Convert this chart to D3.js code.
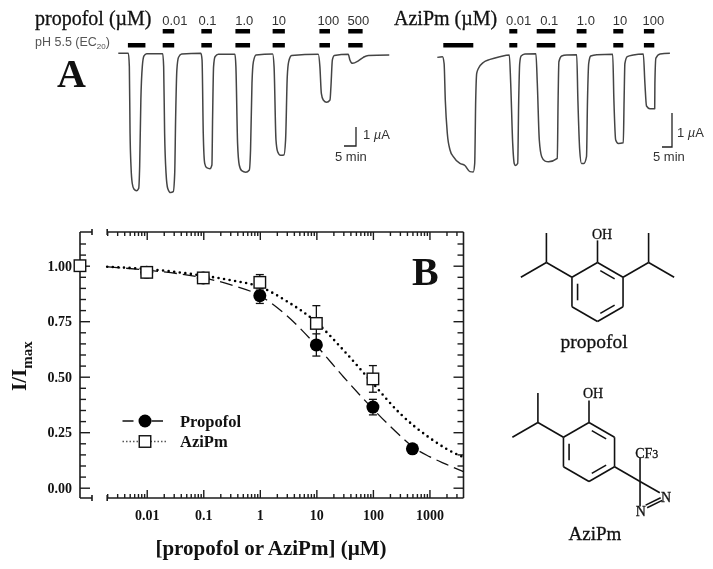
<!DOCTYPE html>
<html>
<head>
<meta charset="utf-8">
<title>Propofol and AziPm</title>
<script src="https://d3js.org/d3.v7.min.js"></script>
<style>
	body { margin: 0; background: #fff; }
	svg { display: block; filter: blur(0.4px); }
	.serif { font-family: "Liberation Serif", serif; fill: #111; }
	.sans { font-family: "Liberation Sans", sans-serif; fill: #333; }
</style>
</head>
<body>
<svg id="chart" width="713" height="569"></svg>
<script>
// panel A : current traces, [minutes, microamps]
const propofolTrace = [[0,0],[4.2,0],[4.6,-.7],[4.9,-4.21],[5.3,-5.96],[5.8,-6.84],[6.5,-7.14],[7.6,-7.23],[8.5,-7.11],[8.9,-5.96],[9.4,-2.46],[10,-.7],[10.7,-.14],[11.8,-.02],
	[18.5,-.02],[18.9,-.7],[19.3,-4.21],[19.9,-6.32],[20.6,-7.11],[21.8,-7.33],[22.9,-7.28],[23.5,-6.32],[23.9,-3.33],[24.4,-.88],[25.1,-.21],[26.4,-.04],
	[34.4,0],[34.9,-.35],[35.4,-4.21],[36,-5.79],[36.8,-6.02],[38.2,-6.07],[39,-5.88],[39.3,-3.33],[39.7,-.7],[40.3,-.18],[41.7,-.05],
	[48.6,-.05],[49,-.7],[49.7,-4.74],[50.4,-5.88],[51.4,-6.18],[53.1,-6.26],[54.6,-6.14],[55.1,-5.09],[55.7,-1.58],[56.3,-.44],[57.4,-.09],
	[64.3,-.04],[64.9,-.7],[65.7,-4.56],[66.4,-5.18],[67.6,-5.37],[69,-5.35],[69.7,-4.56],[70.4,-1.23],[71,-.44],[72.2,-.12],
	[83.3,-.05],[84,-.7],[84.6,-2.11],[85.4,-2.46],[86.8,-2.58],[88.2,-2.46],[88.6,-1.75],[89.2,-.35],[90,-.12],
	[95.8,-.05],[96.5,-.35],[97.6,-.53],[100,-.4],[102.1,-.21],[104.2,-.11],[112.9,-.09]];
const aziPmTrace = [[0,-.12],[2.6,-.1],[3.4,-.3],[4,-1.38],[5,-2.35],[6.4,-2.85],[8,-3.04],[11.3,-3.24],[13.8,-3.3],[16.3,-3.48],[18,-3.49],[18.7,-3.24],[19.2,-1.38],[19.7,-.59],[20.6,-.44],[23,-.27],[26.4,-.18],[31.3,-.1],
	[36,-.05],[36.7,-.88],[37.7,-2.65],[38.5,-3.25],[39.1,-3.3],[40.2,-3.24],[40.7,-1.38],[41.2,-.3],[41.9,-.08],[43.8,-.02],
	[49.3,-.01],[50,-.88],[51,-2.55],[52.2,-3.04],[53.9,-3.17],[55.6,-3.19],[60,-3.09],[60.4,-1.38],[60.8,-.25],[62.2,-.08],[64.7,-.05],
	[69.7,-.04],[70.3,-1.38],[71.2,-2.84],[72.1,-3.24],[73.3,-3.24],[74.6,-3.04],[75.1,-1.38],[75.7,-.3],[76.7,-.08],[79.7,-.04],
	[87.7,-.03],[88.3,-1.38],[89.2,-2.55],[90.5,-2.65],[93,-2.63],[93.4,-1.38],[93.8,-.3],[95,-.1],[98,-.05],
	[103,-.02],[103.8,-.88],[104.6,-1.55],[106.3,-1.63],[108.7,-1.63],[108.8,-.88],[109.3,-.14],[111.4,-.02],[116.3,0]];

// application bars, [start, end] in minutes
const propofolDoseBars = [[18.5,23.3],[34.6,39],[48.8,54.9],[64.3,69.4],[83.8,88.2],[95.8,101.8]];
const propofolPhBars = [[4,11.3]].concat(propofolDoseBars);
const aziPmDoseBars = [[36,40],[49.7,59],[69.7,74.6],[88,93],[103.3,108.5]];
const aziPmPhBars = [[3,18]].concat(aziPmDoseBars);

const propofolDoseLabels = ["0.01","0.1","1.0","10","100","500"];
const propofolDoseTimes = [23.6,37.2,52.5,66.9,87.5,100];
const aziPmDoseLabels = ["0.01","0.1","1.0","10","100"];
const aziPmDoseTimes = [40.7,56,74.3,91.3,108];

// panel B : concentration response
const concentrations = [0.01,0.1,1,10,100];
const propofolConc = [0.01,0.1,1,10,100,500];
const propofolMean = [0.97,0.945,0.865,0.643,0.363,0.175];
const propofolErr = [0.015,0.01,0.035,0.05,0.035,0.012];
const aziPmMean = [0.97,0.945,0.925,0.74,0.49];
const aziPmErr = [0.015,0.012,0.035,0.08,0.06];
const controlConc = 0.00066; // zero concentration, drawn on the y axis past the break
const controlMean = 1;

const propofolFit = [[0.002,0.995],[0.01,0.98],[0.1,0.945],[0.3,0.915],[1,0.865],[3,0.775],[10,0.64],[30,0.5],[100,0.355],[300,0.235],[500,0.185],[1000,0.14],[2000,0.105],[4000,0.072]];
const aziPmFit = [[0.002,0.995],[0.01,0.985],[0.1,0.955],[0.3,0.935],[1,0.905],[3,0.84],[10,0.745],[30,0.62],[100,0.47],[300,0.335],[1000,0.225],[2000,0.175],[4000,0.137]];

const xMajor = [0.01,0.1,1,10,100,1000];
const xMajorLabels = ["0.01","0.1","1","10","100","1000"];
const xMinor = [0.002,0.003,0.004,0.005,0.006,0.007,0.008,0.009,0.02,0.03,0.04,0.05,0.06,0.07,0.08,0.09,0.2,0.3,0.4,0.5,0.6,0.7,0.8,0.9,2,3,4,5,6,7,8,9,20,30,40,50,60,70,80,90,200,300,400,500,600,700,800,900,2000,3000];
const yMajor = [0,0.25,0.5,0.75,1];
const yMinor = [0.05,0.1,0.15,0.2,0.3,0.35,0.4,0.45,0.55,0.6,0.65,0.7,0.8,0.85,0.9,0.95,1.05,1.1];

const svg = d3.select("#chart");
const ink = "#1c1c1c";

// ---------- panel A
function drawTraces(opts){
	const t = d3.scaleLinear().domain([0, opts.tMax]).range([opts.left, opts.left + opts.tMax * opts.pxPerMin]);
	const c = d3.scaleLinear().domain([0, -1]).range([53.3, 53.3 + opts.pxPerUa]);
	const line = d3.line().x(d => t(d[0])).y(d => c(d[1])).curve(d3.curveMonotoneX);

	svg.append("path")
		.attr("d", line(opts.trace))
		.attr("fill", "none")
		.attr("stroke", "#444")
		.attr("stroke-width", 1.5)
		.attr("stroke-linejoin", "round");

	[[opts.doseBars, 29], [opts.phBars, 43]].forEach(function(row){
		svg.append("g").selectAll("rect")
			.data(row[0])
			.enter()
			.append("rect")
			.attr("x", d => t(d[0]))
			.attr("width", d => t(d[1]) - t(d[0]))
			.attr("y", row[1])
			.attr("height", 4.5)
			.attr("fill", "#000");
	});

	svg.append("g").selectAll("text")
		.data(opts.doseLabels)
		.enter()
		.append("text")
		.attr("class", "sans")
		.attr("x", (d, i) => t(opts.doseTimes[i]))
		.attr("y", 25)
		.attr("text-anchor", "middle")
		.attr("font-size", 13)
		.text(d => d);

	// scale bar, 5 min and 1 uA
	const w = t(5) - t(0), h = c(-1) - c(0);
	svg.append("path")
		.attr("d", `M${opts.barX - w},${opts.barY}H${opts.barX}V${opts.barY - h}`)
		.attr("fill", "none")
		.attr("stroke", "#222")
		.attr("stroke-width", 1.3);
	const ua = svg.append("text").attr("class", "sans").attr("font-size", 13)
		.attr("x", opts.uaX).attr("y", opts.uaY);
	ua.append("tspan").text("1 ");
	ua.append("tspan").attr("font-style", "italic").text("µ");
	ua.append("tspan").text("A");
	svg.append("text").attr("class", "sans").attr("font-size", 13)
		.attr("x", opts.minX).attr("y", 161).text("5 min");
}

drawTraces({ trace: propofolTrace, tMax: 112.9, left: 118.3, pxPerMin: 2.4, pxPerUa: 19,
	doseBars: propofolDoseBars, phBars: propofolPhBars,
	doseLabels: propofolDoseLabels, doseTimes: propofolDoseTimes,
	barX: 356, barY: 146, uaX: 363, uaY: 139, minX: 335 });
drawTraces({ trace: aziPmTrace, tMax: 116.3, left: 437.3, pxPerMin: 2, pxPerUa: 34,
	doseBars: aziPmDoseBars, phBars: aziPmPhBars,
	doseLabels: aziPmDoseLabels, doseTimes: aziPmDoseTimes,
	barX: 672, barY: 147, uaX: 677, uaY: 137, minX: 653 });

svg.append("text").attr("class", "serif").attr("x", 35).attr("y", 25).attr("font-size", 20)
	.attr("stroke", "#111").attr("stroke-width", 0.3).text("propofol (µM)");
svg.append("text").attr("class", "serif").attr("x", 394).attr("y", 25).attr("font-size", 20)
	.attr("stroke", "#111").attr("stroke-width", 0.3).text("AziPm (µM)");
const ph = svg.append("text").attr("class", "sans").attr("x", 35).attr("y", 46).attr("font-size", 12.5).style("fill", "#555");
ph.append("tspan").text("pH 5.5 (EC");
ph.append("tspan").attr("font-size", 8).attr("dy", 3).text("20");
ph.append("tspan").attr("dy", -3).text(")");
svg.append("text").attr("class", "serif").attr("x", 57).attr("y", 87).attr("font-size", 40).attr("font-weight", "bold").text("A");

// ---------- panel B
const x = d3.scaleLog().domain([0.002, 4000]).range([107.2, 463.5]);
const y = d3.scaleLinear().domain([0, 1]).range([487.7, 265.7]);
const frameL = 80, frameR = 463.5, frameT = 232, frameB = 498, breakL = 92;

const frame = svg.append("g").attr("fill", "none").attr("stroke", ink).attr("stroke-width", 1.6);
[frameT, frameB].forEach(function(yy){
	frame.append("path").attr("d", `M${frameL},${yy}H${breakL}M${breakL},${yy-3}V${yy+3}`);
	frame.append("path").attr("d", `M${x(0.002)},${yy-3}V${yy+3}M${x(0.002)},${yy}H${frameR}`);
});
frame.append("path").attr("d", `M${frameL},${frameT}V${frameB}M${frameR},${frameT}V${frameB}`);

function styleAxis(g){
	g.select(".domain").remove();
	g.selectAll("line").attr("stroke", ink).attr("stroke-width", 1.4);
	g.selectAll("text")
		.attr("font-family", "'Liberation Serif', serif")
		.attr("font-weight", "bold")
		.attr("font-size", 14)
		.attr("fill", "#111");
}
function addAxis(axis, tx, ty){
	svg.append("g").attr("transform", `translate(${tx},${ty})`).call(axis).call(styleAxis);
}
addAxis(d3.axisBottom(x).tickValues(xMajor).tickSize(-8).tickPadding(12).tickFormat((d, i) => xMajorLabels[i]), 0, frameB);
addAxis(d3.axisBottom(x).tickValues(xMinor).tickSize(-4).tickFormat(""), 0, frameB);
addAxis(d3.axisTop(x).tickValues(xMajor).tickSize(-8).tickFormat(""), 0, frameT);
addAxis(d3.axisTop(x).tickValues(xMinor).tickSize(-4).tickFormat(""), 0, frameT);
addAxis(d3.axisLeft(y).tickValues(yMajor).tickSize(-10).tickPadding(8).tickFormat(d3.format(".2f")), frameL, 0);
addAxis(d3.axisLeft(y).tickValues(yMinor).tickSize(-6).tickFormat(""), frameL, 0);
addAxis(d3.axisRight(y).tickValues(yMajor).tickSize(-10).tickFormat(""), frameR, 0);
addAxis(d3.axisRight(y).tickValues(yMinor).tickSize(-6).tickFormat(""), frameR, 0);

const fitLine = d3.line().x(d => x(d[0])).y(d => y(d[1])).curve(d3.curveMonotoneX);
svg.append("path").attr("d", fitLine(propofolFit)).attr("fill", "none")
	.attr("stroke", "#111").attr("stroke-width", 1.3).attr("stroke-dasharray", "13 6");
svg.append("path").attr("d", fitLine(aziPmFit)).attr("fill", "none")
	.attr("stroke", "#000").attr("stroke-width", 2.6).attr("stroke-linecap", "round").attr("stroke-dasharray", "0 5.6");

function errorBars(conc, mean, err){
	const g = svg.append("g").attr("stroke", "#111").attr("stroke-width", 1.3);
	conc.forEach(function(c, i){
		const px = x(c), hi = y(mean[i] + err[i]), lo = y(mean[i] - err[i]);
		g.append("line").attr("x1", px).attr("x2", px).attr("y1", hi).attr("y2", lo);
		g.append("line").attr("x1", px - 4).attr("x2", px + 4).attr("y1", hi).attr("y2", hi);
		g.append("line").attr("x1", px - 4).attr("x2", px + 4).attr("y1", lo).attr("y2", lo);
	});
}
errorBars(propofolConc, propofolMean, propofolErr);
errorBars(concentrations, aziPmMean, aziPmErr);

svg.append("g").selectAll("circle")
	.data(propofolConc)
	.enter()
	.append("circle")
	.attr("cx", d => x(d))
	.attr("cy", (d, i) => y(propofolMean[i]))
	.attr("r", 6.5)
	.attr("fill", "#000");

const squareSize = 11.5;
function square(sel){
	sel.attr("width", squareSize).attr("height", squareSize)
		.attr("fill", "#fff").attr("stroke", "#111").attr("stroke-width", 1.4);
}
svg.append("g").selectAll("rect")
	.data(concentrations)
	.enter()
	.append("rect")
	.attr("x", d => x(d) - squareSize / 2)
	.attr("y", (d, i) => y(aziPmMean[i]) - squareSize / 2)
	.call(square);
svg.append("rect")
	.attr("x", x(controlConc) - squareSize / 2)
	.attr("y", y(controlMean) - squareSize / 2)
	.call(square);

// legend
svg.append("path").attr("d", "M122.5,421H163").attr("stroke", "#111").attr("stroke-width", 1.3).attr("stroke-dasharray", "11 18 12");
svg.append("circle").attr("cx", 145).attr("cy", 421).attr("r", 6.5).attr("fill", "#000");
svg.append("path").attr("d", "M122.5,441.5H167").attr("stroke", "#555").attr("stroke-width", 1.3).attr("stroke-dasharray", "1.5 2");
svg.append("rect").attr("x", 145 - squareSize / 2).attr("y", 441.5 - squareSize / 2).call(square);
[["Propofol", 426.5], ["AziPm", 447]].forEach(function(d){
	svg.append("text").attr("class", "serif").attr("x", 180).attr("y", d[1])
		.attr("font-size", 16.5).attr("font-weight", "bold").text(d[0]);
});

svg.append("text").attr("class", "serif").attr("x", 412).attr("y", 285).attr("font-size", 40).attr("font-weight", "bold").text("B");
svg.append("text").attr("class", "serif").attr("x", 271).attr("y", 555).attr("text-anchor", "middle")
	.attr("font-size", 21).attr("font-weight", "bold").text("[propofol or AziPm] (µM)");
const yt = svg.append("text").attr("class", "serif").attr("transform", "translate(26,391) rotate(-90)")
	.attr("font-size", 21).attr("font-weight", "bold");
yt.append("tspan").text("I/I");
yt.append("tspan").attr("font-size", 15).attr("dy", 6).text("max");

// ---------- structures, in bond lengths around the ring centre
const ring = [[0,-1],[.866,-.5],[.866,.5],[0,1],[-.866,.5],[-.866,-.5]];
const isopropyl = [[[-.866,-.5],[-1.732,-1]],[[-1.732,-1],[-1.732,-2]],[[-1.732,-1],[-2.598,-.5]]];
const hydroxyl = [[[0,-1],[0,-1.75]]];
const propofolExtra = [[[.866,-.5],[1.732,-1]],[[1.732,-1],[1.732,-2]],[[1.732,-1],[2.598,-.5]]];
const aziPmExtra = [[[.866,.5],[1.73,1]],[[1.73,1],[1.73,.2]],[[1.73,1],[2.4,1.38]],[[1.73,1],[1.73,1.85]],
	[[1.92,1.8],[2.43,1.55]],[[1.97,1.89],[2.48,1.64]]];
const doubleBonds = [[0,1],[2,3],[4,5]];

function drawStructure(cx, cy, extra){
	const bx = d3.scaleLinear().domain([0,1]).range([cx, cx + 29.5]);
	const by = d3.scaleLinear().domain([0,1]).range([cy, cy + 29.5]);
	const bonds = ring.map((p, i) => [p, ring[(i + 1) % 6]]).concat(isopropyl, hydroxyl, extra);
	doubleBonds.forEach(function(b){
		const p = ring[b[0]], q = ring[b[1]], k = 0.78, a = 0.14;
		const i1 = [p[0]*k, p[1]*k], i2 = [q[0]*k, q[1]*k];
		bonds.push([[i1[0]+(i2[0]-i1[0])*a, i1[1]+(i2[1]-i1[1])*a], [i2[0]-(i2[0]-i1[0])*a, i2[1]-(i2[1]-i1[1])*a]]);
	});
	svg.append("g").selectAll("line")
		.data(bonds)
		.enter()
		.append("line")
		.attr("x1", d => bx(d[0][0])).attr("y1", d => by(d[0][1]))
		.attr("x2", d => bx(d[1][0])).attr("y2", d => by(d[1][1]))
		.attr("stroke", "#111").attr("stroke-width", 1.6);
}
drawStructure(597.5, 292, propofolExtra);
drawStructure(589, 452, aziPmExtra);

function atom(label, px, py, size){
	svg.append("text").attr("class", "serif").attr("x", px).attr("y", py).attr("text-anchor", "middle")
		.attr("font-size", size || 14).attr("stroke", "#111").attr("stroke-width", 0.3).text(label);
}
atom("OH", 602, 239);
atom("OH", 593, 398);
atom("N", 666, 502);
atom("N", 640.7, 516);
const cf = svg.append("text").attr("class", "serif").attr("x", 646.7).attr("y", 458).attr("text-anchor", "middle").attr("font-size", 14)
	.attr("stroke", "#111").attr("stroke-width", 0.3);
cf.append("tspan").text("CF");
cf.append("tspan").attr("font-size", 12).text("3");
atom("propofol", 594, 348, 19.5);
atom("AziPm", 595, 540, 19);
</script>
</body>
</html>
